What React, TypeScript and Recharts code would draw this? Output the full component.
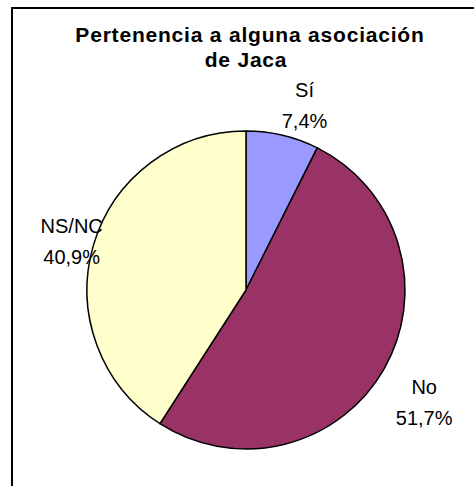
import { PieChart, Pie, Cell } from "recharts";

const CATEGORIES = ["Sí", "No", "NS/NC"];
const PERCENTS = [7.4, 51.7, 40.9];
const COLORS = ["#9999FF", "#993366", "#FFFFCC"];
const TITLE_LINES = ["Pertenencia a alguna asociación", "de Jaca"];

// nudge for each label, relative to a point just outside the slice
const LABEL_NUDGE: Record<string, { dx: number; dy: number }> = {
  "Sí": { dx: 15, dy: -4 },
  No: { dx: 14, dy: 15 },
  "NS/NC": { dx: 7, dy: 1 },
};

const data = CATEGORIES.map((name, i) => ({ name, value: PERCENTS[i] }));

const RADIAN = Math.PI / 180;
const FONT = "'Liberation Sans', Arial, sans-serif";

function renderLabel(props: any) {
  const { cx, cy, midAngle, outerRadius, name, value } = props;
  const r = outerRadius + 30;
  const nudge = LABEL_NUDGE[name] ?? { dx: 0, dy: 0 };
  const x = cx + r * Math.cos(-midAngle * RADIAN) + nudge.dx;
  const y = cy + r * Math.sin(-midAngle * RADIAN) + nudge.dy;
  const pct = `${value.toFixed(1).replace(".", ",")}%`;
  return (
    <text x={x} y={y} textAnchor="middle" fontFamily={FONT} fontSize={20} fill="#000">
      <tspan x={x} dy={-5}>{name}</tspan>
      <tspan x={x} dy={31}>{pct}</tspan>
    </text>
  );
}

export default function App() {
  return (
    <div style={{ position: "absolute", left: 0, top: 0, width: 474, height: 486, background: "#fff", overflow: "hidden" }}>
      <div
        style={{
          position: "absolute",
          left: 11,
          top: 7,
          width: 480,
          height: 500,
          borderLeft: "2px solid #000",
          borderTop: "2px solid #000",
        }}
      />
      <svg width={474} height={486} style={{ position: "absolute", left: 0, top: 0 }}>
        {TITLE_LINES.map((line, i) => (
          <text
            key={i}
            x={i === 0 ? 250 : 246}
            y={42 + i * 25}
            textAnchor="middle"
            fontFamily={FONT}
            fontWeight="bold"
            fontSize={21}
            letterSpacing={0.8}
            fill="#000"
          >
            {line}
          </text>
        ))}
      </svg>
      <div style={{ position: "absolute", left: 0, top: 0 }}>
        <PieChart width={474} height={486} margin={{ top: 0, right: 0, bottom: 0, left: 0 }}>
          <Pie
            data={data}
            dataKey="value"
            nameKey="name"
            cx={246}
            cy={290}
            outerRadius={159}
            startAngle={90}
            endAngle={-270}
            stroke="#000"
            strokeWidth={1.5}
            label={renderLabel}
            labelLine={false}
            isAnimationActive={false}
          >
            {data.map((d, i) => (
              <Cell key={d.name} fill={COLORS[i]} />
            ))}
          </Pie>
        </PieChart>
      </div>
    </div>
  );
}
